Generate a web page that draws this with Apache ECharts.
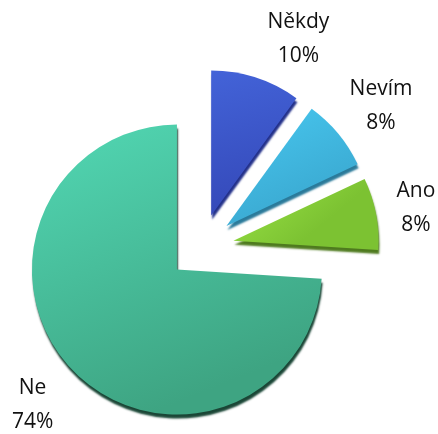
<!DOCTYPE html>
<html>
<head>
<meta charset="utf-8">
<script src="https://cdn.jsdelivr.net/npm/echarts@6/dist/echarts.min.js"></script>
<style>
    html, body { margin: 0; padding: 0; background: #fff; }
    #pieChart { width: 438px; height: 434px; }
</style>
</head>
<body>
<div id="pieChart"></div>
<script>
    // data
    var categories = ['Někdy', 'Nevím', 'Ano', 'Ne'];
    var values = [10, 8, 8, 74];
    var topColors = ['#4363d8', '#48c8f0', '#9ae446', '#52d8b4'];
    var bottomColors = ['#3448b8', '#3aa8d0', '#7cc232', '#3ea482'];
    var edgeColors = ['#22308a', '#2a7a9a', '#4e7a1e', '#1a4636'];

    var center = [201, 247];
    // small nudges so the labels sit where the original put them
    var labelNudge = [[26, 12], [2, 6], [-12, 4], [0, 0]];

    var chart = echarts.init(document.getElementById('pieChart'));
    chart.setOption({
        animation: false,
        series: [{
            // the exploded pie itself
            type: 'pie',
            center: center,
            radius: 145,
            startAngle: 90,
            clockwise: true,
            selectedMode: 'multiple',
            selectedOffset: 33,
            label: { show: false },
            labelLine: { show: false },
            emphasis: { disabled: true },
            silent: true,
            data: categories.map(function (name, i) {
                return {
                    name: name,
                    value: values[i],
                    selected: true,
                    itemStyle: {
                        color: new echarts.graphic.LinearGradient(0, 0, 0.4, 1, [
                            { offset: 0, color: topColors[i] },
                            { offset: 1, color: bottomColors[i] }
                        ]),
                        shadowColor: edgeColors[i],
                        shadowBlur: 2,
                        shadowOffsetX: 1,
                        shadowOffsetY: 4
                    }
                };
            })
        }, {
            // invisible ring that only carries the labels
            type: 'pie',
            center: center,
            radius: [212, 244],
            startAngle: 90,
            clockwise: true,
            silent: true,
            emphasis: { disabled: true },
            itemStyle: { color: 'rgba(0,0,0,0)' },
            label: {
                show: true,
                position: 'inside',
                formatter: '{b}\n{c}%',
                fontFamily: 'Open Sans',
                fontSize: 21,
                lineHeight: 34,
                color: '#111'
            },
            labelLine: { show: false },
            data: categories.map(function (name, i) {
                return {
                    name: name,
                    value: values[i],
                    label: { offset: labelNudge[i] }
                };
            })
        }]
    });
</script>
</body>
</html>
